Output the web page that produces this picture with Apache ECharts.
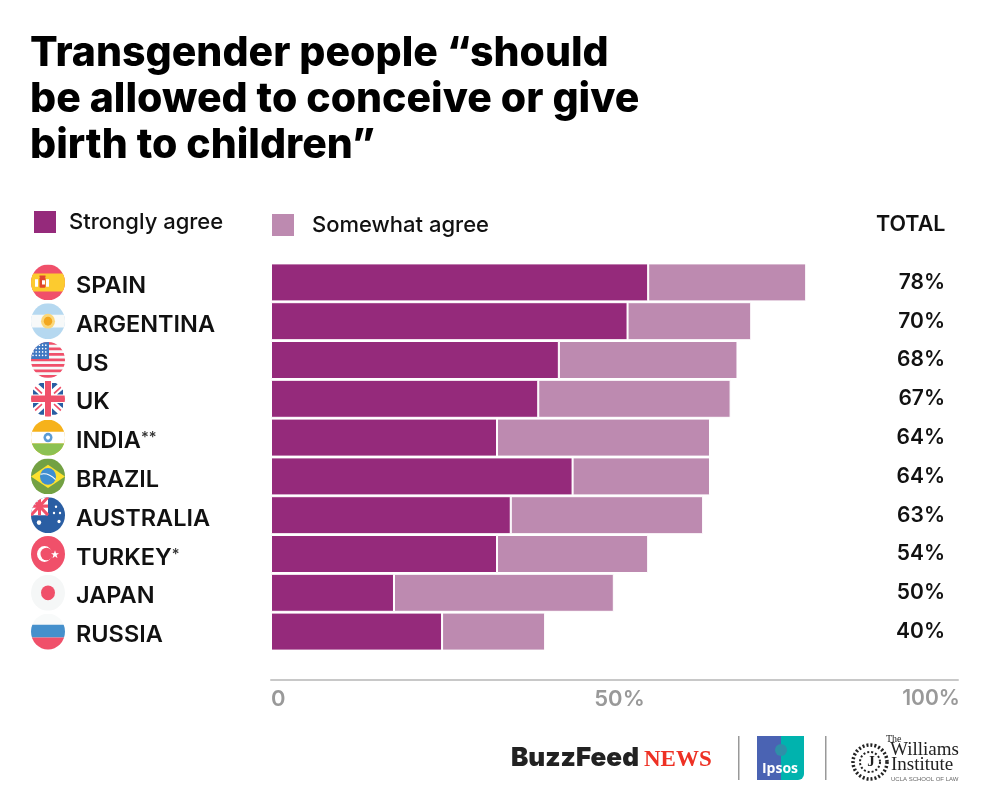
<!DOCTYPE html>
<html><head><meta charset="utf-8">
<style>html,body{margin:0;padding:0;background:#fff}#c{width:990px;height:805px}</style>
<script src="https://cdn.jsdelivr.net/npm/echarts@6/dist/echarts.min.js"></script>
</head><body><div id="c"></div>
<script>
var countries=['SPAIN','ARGENTINA','US','UK','INDIA**','BRAZIL','AUSTRALIA','TURKEY*','JAPAN','RUSSIA'];
var stronglyAgree=[54.9,51.9,41.9,38.9,32.9,43.9,34.9,32.9,17.9,24.9];
var somewhatAgree=[23,18,26,28,31,20,28,22,32,15];
var totalLabels=['78%','70%','68%','67%','64%','64%','63%','54%','50%','40%'];
var FONT='Inter, "Noto Sans", sans-serif';
var PURPLE='#952a7b', MAUVE='#bd8ab0';

function svg(body){return 'data:image/svg+xml;charset=utf-8,'+encodeURIComponent('<svg xmlns="http://www.w3.org/2000/svg" width="34" height="34" viewBox="0 0 34 34"><defs><clipPath id="k"><circle cx="17" cy="17" r="17"/></clipPath></defs><g clip-path="url(#k)">'+body+'</g></svg>');}
var R='#f0506a',Y='#fccb2f',B='#2a5ea3',W='#f7f9f9';
var usStripes='';[0,5.2,10.4,15.6,20.8,26,31.2].forEach(function(y){usStripes+='<rect y="'+y+'" width="34" height="2.6" fill="'+R+'"/>';});
var usDots='';for(var i=0;i<4;i++)for(var j=0;j<5;j++)usDots+='<circle cx="'+(2+j*3.2)+'" cy="'+(3+i*3.2)+'" r=".8" fill="#fff"/>';
var flags=[
 svg('<rect width="34" height="34" fill="'+R+'"/><rect y="8.5" width="34" height="17" fill="'+Y+'"/><rect x="4" y="14" width="3" height="7" fill="#fff"/><rect x="15" y="14" width="3" height="7" fill="#fff"/><rect x="8.5" y="12" width="6" height="10" rx="1" fill="#e0452e"/><rect x="11" y="15" width="3" height="4" fill="#fff"/><rect x="8.5" y="10.5" width="6" height="1.5" fill="#e0452e"/>'),
 svg('<rect width="34" height="34" fill="#b5d8f0"/><rect y="11" width="34" height="12" fill="'+W+'"/><circle cx="17" cy="17" r="7" fill="#fbd77a"/><circle cx="17" cy="17" r="4.2" fill="#f2a71f"/>'),
 svg('<rect width="34" height="34" fill="#f7f9f9"/>'+usStripes+'<rect width="18" height="16" fill="#3f78c2"/>'+usDots),
 svg('<rect width="34" height="34" fill="#fff"/><path d="M6 2L13 8V2zM28 2L21 8V2zM6 32L13 26V32zM28 32L21 26V32zM2 8L8 13H2zM32 8L26 13H32zM2 26L8 21H2zM32 26L26 21H32z" fill="'+B+'"/><path d="M3 5L11 12M31 5L23 12M3 29L11 22M31 29L23 22" stroke="'+R+'" stroke-width="1.6"/><rect x="14" width="6" height="34" fill="'+R+'"/><rect y="14" width="34" height="6" fill="'+R+'"/>'),
 svg('<rect width="34" height="34" fill="#f6b21b"/><rect y="11.5" width="34" height="11" fill="#fff"/><rect y="22.5" width="34" height="12" fill="#8cc152"/><circle cx="17" cy="17" r="4.5" fill="#5b9bd5"/><circle cx="17" cy="17" r="2" fill="#fff"/>'),
 svg('<rect width="34" height="34" fill="#73a143"/><path d="M0 17L17 6L34 17L17 28Z" fill="#fde12f"/><circle cx="17" cy="17" r="8" fill="#3f8ed0"/><path d="M9.5 15Q17 13 24.5 20" stroke="#fff" stroke-width="1" fill="none"/>'),
 svg('<rect width="34" height="34" fill="'+B+'"/><rect width="17" height="17" fill="#fff"/><path d="M0 0L17 17M17 0L0 17" stroke="'+R+'" stroke-width="3"/><rect x="7" width="3" height="17" fill="'+R+'"/><rect y="7" width="17" height="3" fill="'+R+'"/><circle cx="8" cy="24" r="2.2" fill="#fff"/><circle cx="25" cy="9" r="1.2" fill="#fff"/><circle cx="29" cy="15" r="1.2" fill="#fff"/><circle cx="23" cy="15" r="1.2" fill="#fff"/><circle cx="28" cy="23" r="1.6" fill="#fff"/>'),
 svg('<rect width="34" height="34" fill="'+R+'"/><circle cx="13.5" cy="17" r="7.5" fill="#fff"/><circle cx="15.5" cy="17" r="6" fill="'+R+'"/><path d="M24 13.5L25 16.3L28 16.3L25.6 18L26.5 21L24 19.2L21.5 21L22.4 18L20 16.3L23 16.3Z" fill="#fff"/>'),
 svg('<rect width="34" height="34" fill="#f5f7f7"/><circle cx="17" cy="17" r="7" fill="'+R+'"/>'),
 svg('<rect width="34" height="34" fill="#f8fafa"/><rect y="10.5" width="34" height="12" fill="#4590cc"/><rect y="22.5" width="34" height="12" fill="'+R+'"/>')
];

var rich={n:{fontFamily:FONT,fontSize:23.5,fontWeight:600,color:'#111',padding:[7,0,0,11]},
          s:{fontFamily:FONT,fontSize:15,fontWeight:500,color:'#333',padding:[0,0,0,0]}};
flags.forEach(function(f,i){rich['f'+i]={width:34,height:34,backgroundColor:{image:f},padding:[2,0,0,0]};});

function seal(){
  return {type:'group',children:[
    {type:'circle',shape:{cx:870,cy:762,r:17},style:{fill:'none',stroke:'#222',lineWidth:3.5,lineDash:[2,2]}},
    {type:'circle',shape:{cx:870,cy:762,r:10},style:{fill:'none',stroke:'#222',lineWidth:2,lineDash:[2,2]}},
    {type:'text',x:871,y:762,style:{text:'J',font:'bold 15px "Liberation Serif"',fill:'#222',align:'center',verticalAlign:'middle'}}
  ]};
}

var chart=echarts.init(document.getElementById('c'),null,{renderer:'canvas'});
chart.setOption({
  animation:false,backgroundColor:'#fff',
  title:{text:'Transgender people “should\nbe allowed to conceive or give\nbirth to children”',left:25,top:26,
    textStyle:{fontFamily:FONT,fontSize:41,fontWeight:800,color:'#000',lineHeight:46}},
  legend:[
    {data:['Strongly agree'],left:27,top:204,itemWidth:24,itemHeight:24,itemGap:0,selectedMode:false,icon:'rect',
     textStyle:{fontFamily:FONT,fontSize:22,fontWeight:500,color:'#111',padding:[0,0,0,7]}},
    {data:['Somewhat agree'],left:265,top:207,itemWidth:24,itemHeight:24,itemGap:0,selectedMode:false,icon:'rect',
     textStyle:{fontFamily:FONT,fontSize:22,fontWeight:500,color:'#111',padding:[0,0,0,12]}}
  ],
  grid:{left:271,top:263,width:687,height:388,containLabel:false},
  xAxis:{type:'value',min:0,max:100,interval:50,offset:29,
    axisLine:{show:true,lineStyle:{color:'#c8c8c8',width:2}},axisTick:{show:false},splitLine:{show:false},
    axisLabel:{color:'#999',fontFamily:FONT,fontSize:22,fontWeight:600,margin:8,alignMinLabel:'left',alignMaxLabel:'center',
      formatter:function(v){return v===0?'0':v===50?'{m|50%}':'{e|100%}';},
      rich:{m:{color:'#999',fontFamily:FONT,fontSize:22,fontWeight:600,padding:[0,0,0,10]},
            e:{color:'#999',fontFamily:FONT,fontSize:21,fontWeight:600,padding:[0,54,0,0]}}}},
  yAxis:[
    {type:'category',data:countries,inverse:true,axisLine:{show:false},axisTick:{show:false},
     axisLabel:{align:'left',margin:240,interval:0,rich:rich,
       formatter:function(v,i){var m=v.match(/^([^*]+)(\*+)$/);
         return '{f'+i+'|}{n|'+(m?m[1]:v)+'}'+(m?'{s|'+m[2]+'}':'');}}},
    {type:'category',data:totalLabels,inverse:true,position:'right',axisLine:{show:false},axisTick:{show:false},
     axisLabel:{align:'right',margin:-13,interval:0,color:'#111',fontFamily:FONT,fontSize:21,fontWeight:600,padding:[6,0,0,0]}}
  ],
  series:[
    {name:'Strongly agree',type:'bar',stack:'a',data:stronglyAgree,barWidth:38,yAxisIndex:0,
     itemStyle:{color:PURPLE,borderColor:'#fff',borderWidth:1}},
    {name:'Somewhat agree',type:'bar',stack:'a',data:somewhatAgree,barWidth:38,yAxisIndex:0,
     itemStyle:{color:MAUVE,borderColor:'#fff',borderWidth:1}}
  ],
  graphic:{elements:[
    {type:'text',x:876,y:225,style:{text:'TOTAL',font:'600 21.5px '+FONT,fill:'#111',verticalAlign:'middle'}},
    {type:'text',x:511,y:758,style:{text:'BuzzFeed',font:'900 26px '+FONT,fill:'#222',verticalAlign:'middle'}},
    {type:'text',x:644,y:760,style:{text:'NEWS',font:'bold 23px "Liberation Serif"',fill:'#ee3124',verticalAlign:'middle'}},
    {type:'rect',shape:{x:738,y:736,width:1.5,height:44},style:{fill:'#999'}},
    {type:'rect',shape:{x:825,y:736,width:1.5,height:44},style:{fill:'#999'}},
    {type:'rect',shape:{x:757,y:736,width:47,height:44,r:[0,0,6,0]},style:{fill:'#00b3ae'}},
    {type:'rect',shape:{x:757,y:736,width:24,height:44},style:{fill:'#4a63b3'}},
    {type:'text',x:780,y:769,style:{text:'Ipsos',font:'bold 14px "Open Sans"',fill:'#fff',align:'center',verticalAlign:'middle'}},
    {type:'circle',shape:{cx:781,cy:750,r:6},style:{fill:'#2f8fa8'}},
    seal(),
    {type:'text',x:886,y:734,style:{text:'The',font:'10px "Liberation Serif"',fill:'#222',verticalAlign:'top'}},
    {type:'text',x:890,y:750,style:{text:'Williams',font:'19px "Liberation Serif"',fill:'#222',verticalAlign:'middle'}},
    {type:'text',x:891,y:765,style:{text:'Institute',font:'19px "Liberation Serif"',fill:'#222',verticalAlign:'middle'}},
    {type:'text',x:891,y:779,style:{text:'UCLA SCHOOL OF LAW',font:'6px "Liberation Sans"',fill:'#666',verticalAlign:'middle'}}
  ]}
});
</script></body></html>
